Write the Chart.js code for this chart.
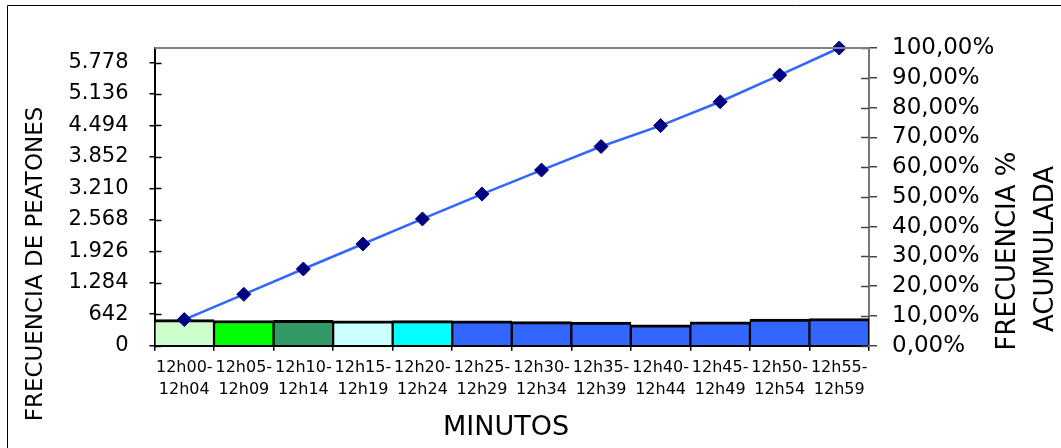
<!DOCTYPE html>
<html lang="es">
<head>
<meta charset="utf-8">
<title>Frecuencia de peatones por intervalo</title>
<script src="https://cdn.jsdelivr.net/npm/chart.js@4.4.1/dist/chart.umd.min.js"></script>
<style>
  html, body { margin: 0; padding: 0; background: #fff; }
  #wrap { width: 1061px; height: 448px; position: relative; }
  canvas { display: block; }
</style>
</head>
<body>
<div id="wrap"><canvas id="chart" width="1061" height="448"></canvas></div>
<script>
// Intervalos de 5 minutos
const categories = [
  ['12h00-', '12h04'], ['12h05-', '12h09'], ['12h10-', '12h14'], ['12h15-', '12h19'],
  ['12h20-', '12h24'], ['12h25-', '12h29'], ['12h30-', '12h34'], ['12h35-', '12h39'],
  ['12h40-', '12h44'], ['12h45-', '12h49'], ['12h50-', '12h54'], ['12h55-', '12h59']
];

// Peatones contados en cada intervalo
const peatones = [533, 515, 517, 510, 512, 507, 490, 481, 426, 487, 544, 553];

// Frecuencia acumulada (%)
const acumulado = [8.77, 17.25, 25.76, 34.16, 42.58, 50.93, 59.00, 66.91, 73.93, 81.94, 90.90, 100.00];

// Total de peatones (tope del eje izquierdo)
const totalPeatones = 6075;

// Etiquetas de los ejes
const leftTicks = [0, 642, 1284, 1926, 2568, 3210, 3852, 4494, 5136, 5778];
const rightTicks = [0, 10, 20, 30, 40, 50, 60, 70, 80, 90, 100];

const barColors = ['#CCFFCC', '#00FF00', '#339966', '#CCFFFF', '#00FFFF',
  '#3366FF', '#3366FF', '#3366FF', '#3366FF', '#3366FF', '#3366FF', '#3366FF'];

const TICK_FONT = 'DejaVu Sans';
const TITLE_FONT = '"Comic Sans MS", "DejaVu Sans", sans-serif';

function miles(v) {
  return String(Math.round(v)).replace(/\B(?=(\d{3})+(?!\d))/g, '.');
}
function porcentaje(v) {
  return v.toFixed(2).replace('.', ',') + '%';
}

// Marcas interiores de los ejes, borde superior del área, títulos y marco
const decoraciones = {
  id: 'decoraciones',
  beforeDatasetsDraw(chart) {
    const ctx = chart.ctx;
    const a = chart.chartArea;
    const y = chart.scales.y, y1 = chart.scales.y1;
    ctx.save();
    ctx.lineWidth = 1.5;
    ctx.strokeStyle = '#000';
    y.ticks.forEach(t => {
      const py = Math.round(y.getPixelForValue(t.value)) + 0.5;
      ctx.beginPath(); ctx.moveTo(a.left, py); ctx.lineTo(a.left + 7, py); ctx.stroke();
    });
    ctx.strokeStyle = '#444';
    y1.ticks.forEach(t => {
      const py = Math.round(y1.getPixelForValue(t.value)) + 0.5;
      ctx.beginPath(); ctx.moveTo(a.right - 8, py); ctx.lineTo(a.right, py); ctx.stroke();
    });
    ctx.restore();
  },
  afterDraw(chart) {
    const ctx = chart.ctx;
    const a = chart.chartArea;
    ctx.save();
    // borde superior del área de trazado
    ctx.strokeStyle = '#808080';
    ctx.lineWidth = 2;
    ctx.beginPath(); ctx.moveTo(a.left, a.top); ctx.lineTo(a.right, a.top); ctx.stroke();

    // marco exterior
    ctx.strokeStyle = '#000';
    ctx.lineWidth = 1;
    ctx.beginPath();
    ctx.moveTo(7.5, 448); ctx.lineTo(7.5, 5.5); ctx.lineTo(1061, 5.5);
    ctx.stroke();

    ctx.fillStyle = '#000';
    ctx.textAlign = 'center';
    ctx.textBaseline = 'middle';

    // título eje izquierdo
    ctx.save();
    ctx.translate(36, 264);
    ctx.rotate(-Math.PI / 2);
    ctx.font = '23px ' + TITLE_FONT;
    ctx.fillText('FRECUENCIA DE PEATONES', 0, 0);
    ctx.restore();

    // título eje derecho (dos líneas)
    ctx.save();
    ctx.translate(1008, 251);
    ctx.rotate(-Math.PI / 2);
    ctx.font = '26px ' + TITLE_FONT;
    ctx.fillText('FRECUENCIA %', 0, 0);
    ctx.restore();
    ctx.save();
    ctx.translate(1046, 249);
    ctx.rotate(-Math.PI / 2);
    ctx.font = '26px ' + TITLE_FONT;
    ctx.fillText('ACUMULADA', 0, 0);
    ctx.restore();

    // título eje horizontal
    ctx.font = '27px ' + TITLE_FONT;
    ctx.fillText('MINUTOS', 506, 428);
    ctx.restore();
  }
};

new Chart(document.getElementById('chart'), {
  data: {
    labels: categories,
    datasets: [
      {
        type: 'line',
        label: 'Frecuencia % acumulada',
        data: acumulado,
        yAxisID: 'y1',
        order: 0,
        borderColor: '#3366FF',
        borderWidth: 2.5,
        tension: 0,
        pointStyle: 'rectRot',
        pointRadius: 7,
        pointBackgroundColor: '#000080',
        pointBorderColor: '#000080',
        pointBorderWidth: 1,
        clip: false
      },
      {
        type: 'bar',
        label: 'Frecuencia de peatones',
        data: peatones,
        yAxisID: 'y',
        order: 1,
        backgroundColor: barColors,
        borderColor: '#000',
        borderWidth: { top: 3, right: 1.5, bottom: 0, left: 1.5 },
        borderSkipped: false,
        barPercentage: 1,
        categoryPercentage: 1
      }
    ]
  },
  options: {
    responsive: false,
    animation: false,
    layout: { padding: { top: 48, left: 0, right: 0, bottom: 0 } },
    plugins: { legend: { display: false }, tooltip: { enabled: false } },
    scales: {
      x: {
        offset: true,
        grid: { display: true, drawOnChartArea: false, drawTicks: true, tickLength: 5, color: '#000', lineWidth: 1.5, offset: true },
        border: { display: true, color: '#000', width: 2 },
        ticks: {
          color: '#000', maxRotation: 0, autoSkip: false, padding: 6,
          font: { family: TICK_FONT, size: 16, lineHeight: 1.4 }
        },
        afterFit(scale) { scale.height = 102.3; }
      },
      y: {
        position: 'left',
        min: 0,
        max: totalPeatones,
        grid: { display: true, drawOnChartArea: false, drawTicks: true, tickLength: 5, color: '#000', lineWidth: 1.5 },
        border: { display: true, color: '#000', width: 2 },
        ticks: {
          color: '#000', padding: 21, autoSkip: false,
          font: { family: TICK_FONT, size: 21 },
          callback: v => miles(v)
        },
        afterBuildTicks(scale) { scale.ticks = leftTicks.map(v => ({ value: v })); },
        afterFit(scale) { scale.width = 154.5; }
      },
      y1: {
        position: 'right',
        min: 0,
        max: 100,
        grid: { display: true, drawOnChartArea: false, drawTicks: true, tickLength: 8, color: '#444', lineWidth: 1.5 },
        border: { display: true, color: '#777', width: 2 },
        ticks: {
          color: '#000', padding: 15, autoSkip: false,
          font: { family: TICK_FONT, size: 23 },
          callback: v => porcentaje(v)
        },
        afterBuildTicks(scale) { scale.ticks = rightTicks.map(v => ({ value: v })); },
        afterFit(scale) { scale.width = 192; }
      }
    }
  },
  plugins: [decoraciones]
});
</script>
</body>
</html>
